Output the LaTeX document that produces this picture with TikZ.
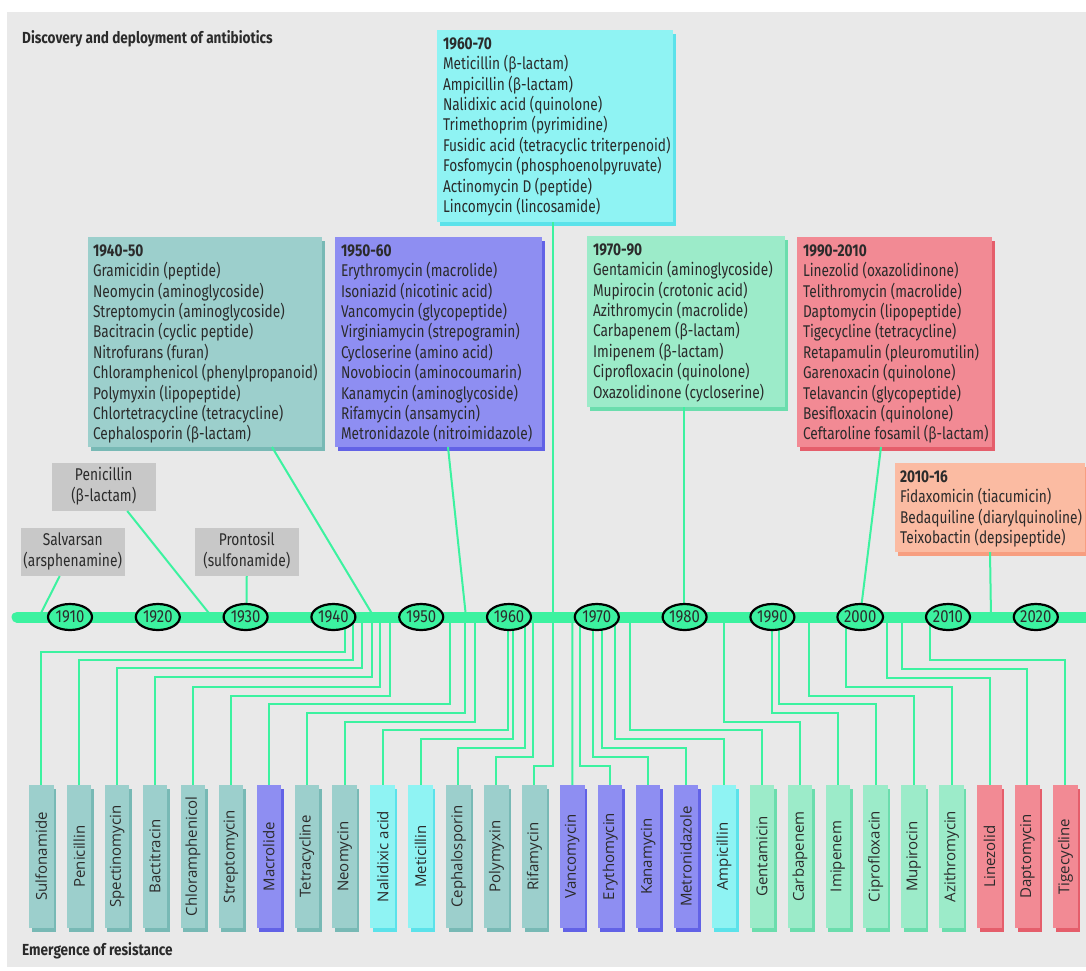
\documentclass[tikz,border=0pt]{standalone}
\usepackage{fontspec}
\setmainfont{Fira Sans}
\newfontfamily\barfont{Open Sans}
\usetikzlibrary{shapes.geometric,shadows}
\definecolor{bg}{HTML}{E9E9E9}
\definecolor{grn}{HTML}{3CF2A0}
\definecolor{cTeal}{HTML}{9CCFCC}\definecolor{sTeal}{HTML}{78B9B5}
\definecolor{cBlue}{HTML}{8E8EF2}\definecolor{sBlue}{HTML}{6262E6}
\definecolor{cCyan}{HTML}{8FF3F3}\definecolor{sCyan}{HTML}{5BE2EA}
\definecolor{cMint}{HTML}{9CEBC9}\definecolor{sMint}{HTML}{6BDDAD}
\definecolor{cRed}{HTML}{F28A94}\definecolor{sRed}{HTML}{E55E6B}
\definecolor{cPeach}{HTML}{FBBBA2}\definecolor{sPeach}{HTML}{F79E80}
\definecolor{cGray}{HTML}{C8C8C8}
\definecolor{txt}{HTML}{2B2B2B}
\newcommand\hs[1]{\scalebox{0.85}[1]{#1}}
\newcommand\btab[1]{\scalebox{0.805}[1]{\begin{tabular}{@{}l@{}}#1\end{tabular}}}
\newcommand\ctab[1]{\scalebox{0.81}[1]{\begin{tabular}{@{}c@{}}#1\end{tabular}}}
\tikzset{
  panel/.style 2 args={fill=#1, draw=none, inner sep=0pt, outer sep=0pt, anchor=north west,
    drop shadow={shadow xshift=2.5pt, shadow yshift=-3.5pt, fill=#2, opacity=1}},
  boxtxt/.style={anchor=north west, inner sep=0pt, outer sep=0pt, text=txt, font=\fontsize{17}{20}\selectfont},
  graybox/.style={fill=cGray, draw=none, inner sep=0pt, outer sep=0pt, anchor=north west,
    minimum width=103.5pt, minimum height=48pt, text=txt, font=\fontsize{17}{20}\selectfont},
  conn/.style={draw=grn, line width=2pt},
  yr/.style={ellipse, fill=grn, draw=black, line width=2.2pt, minimum width=44pt, minimum height=26pt,
    inner sep=0pt, text=txt, font=\fontsize{17.5}{20}\selectfont},
  bar/.style 2 args={fill=#1, draw=none, inner sep=0pt, outer sep=0pt, anchor=north west,
    minimum width=24.5pt, minimum height=143pt,
    drop shadow={shadow xshift=2.5pt, shadow yshift=-4pt, fill=#2, opacity=1}},
  bartxt/.style={rotate=90, inner sep=0pt, text=txt, font=\barfont\fontsize{15}{18}\selectfont},
  heading/.style={anchor=base west, inner sep=0pt, text=txt, font=\bfseries\fontsize{16}{19}\selectfont}
}
\newcommand\abar[4]{%
  \node[bar={#3}{#4}] (b#1) at ({29+37.93*#1},785) {};
  \node[bartxt] (bt#1) at (b#1.center) {#2};}
\newcommand\rc[3]{%
  \coordinate (r#1) at (#2,617);
  \draw[conn] (r#1) -- (#2,#3) -| (b#1.north);}
\begin{document}
\begin{tikzpicture}[x=1pt,y=-1pt]
\useasboundingbox (0,0) rectangle (1086,970);
\fill[white] (0,0) rectangle (1086,970);
\fill[bg] (7,12) rectangle (1086,967);

\node[heading] (title) at (22,43) {\hs{Discovery and deployment of antibiotics}};
\node[heading] (emerg) at (22,955) {\hs{Emergence of resistance}};

% discovery panels
\node[panel={cCyan}{sCyan}, minimum width=236pt, minimum height=192pt] (p6070) at (437,30) {};
\node[boxtxt] (p6070t) at (443,35.5) {\btab{\textbf{1960-70}\\Meticillin (β-lactam)\\Ampicillin (β-lactam)\\Nalidixic acid (quinolone)\\Trimethoprim (pyrimidine)\\Fusidic acid (tetracyclic triterpenoid)\\Fosfomycin (phosphoenolpyruvate)\\Actinomycin D (peptide)\\Lincomycin (lincosamide)}};

\node[panel={cTeal}{sTeal}, minimum width=234pt, minimum height=210pt] (p4050) at (88,237) {};
\node[boxtxt] (p4050t) at (93,242.5) {\btab{\textbf{1940-50}\\Gramicidin (peptide)\\Neomycin (aminoglycoside)\\Streptomycin (aminoglycoside)\\Bacitracin (cyclic peptide)\\Nitrofurans (furan)\\Chloramphenicol (phenylpropanoid)\\Polymyxin (lipopeptide)\\Chlortetracycline (tetracycline)\\Cephalosporin (β-lactam)}};

\node[panel={cBlue}{sBlue}, minimum width=207pt, minimum height=210pt] (p5060) at (335,237) {};
\node[boxtxt] (p5060t) at (341,242.5) {\btab{\textbf{1950-60}\\Erythromycin (macrolide)\\Isoniazid (nicotinic acid)\\Vancomycin (glycopeptide)\\Virginiamycin (strepogramin)\\Cycloserine (amino acid)\\Novobiocin (aminocoumarin)\\Kanamycin (aminoglycoside)\\Rifamycin (ansamycin)\\Metronidazole (nitroimidazole)}};

\node[panel={cMint}{sMint}, minimum width=198pt, minimum height=171pt] (p7090) at (587,236) {};
\node[boxtxt] (p7090t) at (593,241.5) {\btab{\textbf{1970-90}\\Gentamicin (aminoglycoside)\\Mupirocin (crotonic acid)\\Azithromycin (macrolide)\\Carbapenem (β-lactam)\\Imipenem (β-lactam)\\Ciprofloxacin (quinolone)\\Oxazolidinone (cycloserine)}};

\node[panel={cRed}{sRed}, minimum width=195pt, minimum height=210pt] (p9010) at (797,237) {};
\node[boxtxt] (p9010t) at (803,242.5) {\btab{\textbf{1990-2010}\\Linezolid (oxazolidinone)\\Telithromycin (macrolide)\\Daptomycin (lipopeptide)\\Tigecycline (tetracycline)\\Retapamulin (pleuromutilin)\\Garenoxacin (quinolone)\\Telavancin (glycopeptide)\\Besifloxacin (quinolone)\\Ceftaroline fosamil (β-lactam)}};

\node[panel={cPeach}{sPeach}, minimum width=190pt, minimum height=89pt] (p1016) at (895,463) {};
\node[boxtxt] (p1016t) at (900,468.5) {\btab{\textbf{2010-16}\\Fidaxomicin (tiacumicin)\\Bedaquiline (diarylquinoline)\\Teixobactin (depsipeptide)}};

\node[graybox] (salv) at (21,528) {\ctab{Salvarsan\\(arsphenamine)}};
\node[graybox] (peni) at (52,463) {\ctab{Penicillin\\(β-lactam)}};
\node[graybox] (pront) at (195,528) {\ctab{Prontosil\\(sulfonamide)}};

% resistance bars
\abar{0}{Sulfonamide}{cTeal}{sTeal}
\abar{1}{Penicillin}{cTeal}{sTeal}
\abar{2}{Spectinomycin}{cTeal}{sTeal}
\abar{3}{Bactitracin}{cTeal}{sTeal}
\abar{4}{Chloramphenicol}{cTeal}{sTeal}
\abar{5}{Streptomycin}{cTeal}{sTeal}
\abar{6}{Macrolide}{cBlue}{sBlue}
\abar{7}{Tetracycline}{cTeal}{sTeal}
\abar{8}{Neomycin}{cTeal}{sTeal}
\abar{9}{Nalidixic acid}{cCyan}{sCyan}
\abar{10}{Meticillin}{cCyan}{sCyan}
\abar{11}{Cephalosporin}{cTeal}{sTeal}
\abar{12}{Polymyxin}{cTeal}{sTeal}
\abar{13}{Rifamycin}{cTeal}{sTeal}
\abar{14}{Vancomycin}{cBlue}{sBlue}
\abar{15}{Erythomycin}{cBlue}{sBlue}
\abar{16}{Kanamycin}{cBlue}{sBlue}
\abar{17}{Metronidazole}{cBlue}{sBlue}
\abar{18}{Ampicillin}{cCyan}{sCyan}
\abar{19}{Gentamicin}{cMint}{sMint}
\abar{20}{Carbapenem}{cMint}{sMint}
\abar{21}{Imipenem}{cMint}{sMint}
\abar{22}{Ciprofloxacin}{cMint}{sMint}
\abar{23}{Mupirocin}{cMint}{sMint}
\abar{24}{Azithromycin}{cMint}{sMint}
\abar{25}{Linezolid}{cRed}{sRed}
\abar{26}{Daptomycin}{cRed}{sRed}
\abar{27}{Tigecycline}{cRed}{sRed}

% timeline points for discoveries
\coordinate (dSalv) at (39,617);
\coordinate (dPeni) at (212,617);
\coordinate (dPront) at (246.5,617);
\coordinate (d4050) at (374,617);
\coordinate (d5060) at (466,617);
\coordinate (d6070) at (553,617);
\coordinate (d7090) at (684,617);
\coordinate (d9010) at (860,617);
\coordinate (d1016) at (991,617);

\draw[conn] ([xshift=-13pt]salv.south) -- (dSalv);
\draw[conn] ([xshift=23.5pt]peni.south) -- (dPeni);
\draw[conn] (pront.south) -- (dPront);
\draw[conn] ([xshift=67pt]p4050.south) -- (d4050);
\draw[conn] ([xshift=9.5pt]p5060.south) -- (d5060);
\draw[conn] ([xshift=-2pt]p6070.south) -- (d6070);
\draw[conn] ([xshift=-2pt]p7090.south) -- (d7090);
\draw[conn] ([xshift=-13.5pt]p9010.south) -- (d9010);
\draw[conn] (p1016.south) -- (d1016);

% resistance connectors
\rc{0}{345}{652}
\rc{1}{353}{660}
\rc{2}{362}{668}
\rc{3}{372}{677}
\rc{4}{380}{687}
\rc{5}{390}{696}
\rc{6}{450}{704}
\rc{7}{465}{713}
\rc{8}{475}{722}
\rc{9}{508}{730}
\rc{10}{513}{739}
\rc{11}{525}{748}
\rc{12}{533}{757}
\rc{13}{553}{766}
\coordinate (r14) at (572.25,617);
\draw[conn] (r14) -- (b14.north);
\rc{15}{580}{766}
\rc{16}{593}{757}
\rc{17}{602}{748}
\rc{18}{615}{739}
\rc{19}{630}{730}
\rc{20}{724}{722}
\rc{21}{772}{713}
\rc{22}{779}{704}
\rc{23}{809}{696}
\rc{24}{846}{687}
\rc{25}{887}{678}
\rc{26}{902}{669}
\rc{27}{930}{660}

% timeline
\coordinate (tlA) at (17,617);
\coordinate (tlB) at (1095,617);
\draw[grn, line width=11pt, line cap=round] (tlA) -- (tlB);

\node[yr] (y1910) at (70,617) {\hs{1910}};
\node[yr] (y1920) at (157.8,617) {\hs{1920}};
\node[yr] (y1930) at (245.6,617) {\hs{1930}};
\node[yr] (y1940) at (333.4,617) {\hs{1940}};
\node[yr] (y1950) at (421.2,617) {\hs{1950}};
\node[yr] (y1960) at (509,617) {\hs{1960}};
\node[yr] (y1970) at (596.8,617) {\hs{1970}};
\node[yr] (y1980) at (684.6,617) {\hs{1980}};
\node[yr] (y1990) at (772.4,617) {\hs{1990}};
\node[yr] (y2000) at (860.2,617) {\hs{2000}};
\node[yr] (y2010) at (948,617) {\hs{2010}};
\node[yr] (y2020) at (1035.8,617) {\hs{2020}};
\end{tikzpicture}
\end{document}
